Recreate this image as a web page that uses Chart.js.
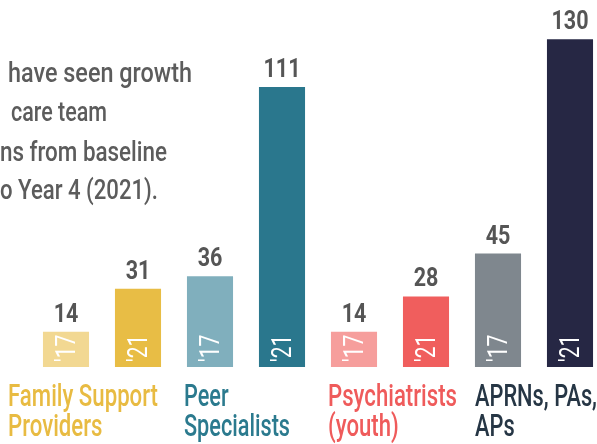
<!DOCTYPE html>
<html>
<head>
<meta charset="utf-8">
<script src="https://cdn.jsdelivr.net/npm/chart.js@4"></script>
<style>
  html, body { margin: 0; padding: 0; width: 597px; height: 444px; overflow: hidden; background: #fff; }
  #wrap { position: relative; width: 597px; height: 444px; overflow: hidden; }
  canvas { position: absolute; left: 0; top: 0; }
  .fit { display: inline-block; transform-origin: 0 0; white-space: nowrap; }
  .intro { position: absolute; font-family: Roboto, sans-serif; font-weight: 500; font-size: 27px; line-height: 27px; color: #5c5c5c; }
  .group { position: absolute; top: 381px; font-family: Roboto, sans-serif; font-weight: 500; font-size: 31px; line-height: 30px; }
</style>
</head>
<body>
<div id="wrap">
  <canvas id="chart" width="610" height="444"></canvas>
  <div class="intro" style="left:8px; top:60px;"><span class="fit" data-w="184">have seen growth</span></div>
  <div class="intro" style="left:11px; top:99px;"><span class="fit" data-w="96">care team</span></div>
  <div class="intro" style="left:0px; top:139px;"><span class="fit" data-w="167">ns from baseline</span></div>
  <div class="intro" style="left:0px; top:177px;"><span class="fit" data-w="158">o Year 4 (2021).</span></div>
  <div class="group" style="left:8px; color:#e8bb42;"><span class="fit" data-w="150">Family Support<br>Providers</span></div>
  <div class="group" style="left:184px; color:#2b7a8e;"><span class="fit" data-w="106">Peer<br>Specialists</span></div>
  <div class="group" style="left:328px; color:#ef5b5b;"><span class="fit" data-w="129">Psychiatrists<br>(youth)</span></div>
  <div class="group" style="left:475px; color:#263645;"><span class="fit" data-w="122">APRNs, PAs,<br>APs</span></div>
</div>
<script>
// one bar per year per role
const years = ["'17", "'21", "'17", "'21", "'17", "'21", "'17", "'21"];
const roles = ['Family Support Providers', 'Family Support Providers', 'Peer Specialists', 'Peer Specialists',
               'Psychiatrists (youth)', 'Psychiatrists (youth)', 'APRNs, PAs, APs', 'APRNs, PAs, APs'];
const counts = [14, 31, 36, 111, 14, 28, 45, 130];
const barColors = ['#f2d892', '#e8bd45', '#80afbd', '#2a778d', '#f69e9c', '#f05e5d', '#7f878e', '#262744'];

// squeeze text horizontally, the original uses a condensed face
document.querySelectorAll('.fit').forEach(el => {
    const w = el.getBoundingClientRect().width;
    el.style.transform = 'scaleX(' + (Number(el.dataset.w) / w) + ')';
});

// value on top, year rotated inside the bar
const barLabels = {
    id: 'barLabels',
    afterDatasetsDraw(chart) {
        const ctx = chart.ctx;
        const meta = chart.getDatasetMeta(0);
        meta.data.forEach((bar, i) => {
            ctx.save();
            ctx.translate(bar.x, bar.y - 10);
            ctx.scale(0.86, 1);
            ctx.fillStyle = '#555555';
            ctx.font = 'bold 25px Roboto, sans-serif';
            ctx.textAlign = 'center';
            ctx.textBaseline = 'alphabetic';
            ctx.fillText(String(counts[i]), 0, 0);
            ctx.restore();

            ctx.save();
            ctx.translate(bar.x + 9, bar.base - 5);
            ctx.rotate(-Math.PI / 2);
            ctx.scale(0.75, 1);
            ctx.fillStyle = '#ffffff';
            ctx.font = '28px Roboto, sans-serif';
            ctx.textAlign = 'left';
            ctx.textBaseline = 'alphabetic';
            ctx.fillText(years[i], 0, 0);
            ctx.restore();
        });
    }
};

new Chart(document.getElementById('chart').getContext('2d'), {
    type: 'bar',
    data: {
        labels: roles.map((r, i) => r + ' ' + years[i]),
        datasets: [{
            data: counts,
            backgroundColor: barColors,
            borderWidth: 0,
            categoryPercentage: 1,
            barPercentage: 0.64
        }]
    },
    options: {
        responsive: false,
        animation: false,
        layout: { padding: { left: 30, right: 4, top: 14, bottom: 77 } },
        plugins: { legend: { display: false }, tooltip: { enabled: false } },
        scales: {
            x: { display: false },
            y: { display: false, min: 0, max: 140 }
        }
    },
    plugins: [barLabels]
});
</script>
</body>
</html>
